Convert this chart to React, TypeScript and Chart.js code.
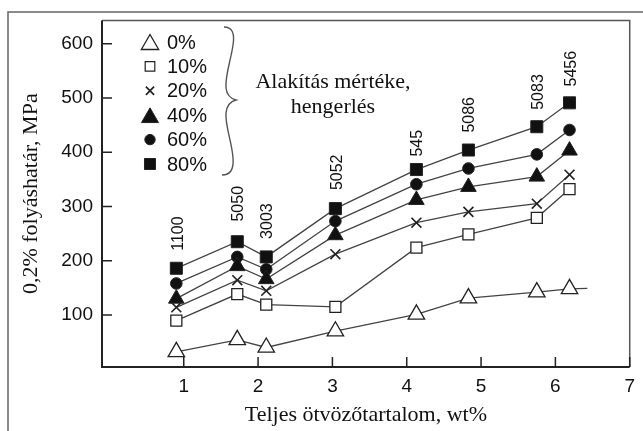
import React, { useEffect, useRef } from "react";
import { Chart, registerables } from "chart.js";

Chart.register(...registerables);

// ---- data ----
const xValues = [0.9, 1.72, 2.11, 3.04, 4.13, 4.83, 5.75, 6.19];
const series0 = [32, 54, 40, 70, 101, 131, 142, 148];
const series0TailX = 6.43;
const series0TailY = 149;
const series10 = [89.5, 138.5, 119, 115, 224, 248.5, 279, 332];
const series20 = [114, 164, 144.5, 212, 270, 290, 305, 358.6];
const series40 = [130, 190, 166, 247, 312, 336, 355, 403];
const series60 = [158, 207, 184, 273, 341, 370, 396, 441];
const series80 = [186, 235, 207, 296, 368, 404, 447, 491];
const seriesNames = ["0%", "10%", "20%", "40%", "60%", "80%"];
const alloyNames = ["1100", "5050", "3003", "5052", "545", "5086", "5083", "5456"];
const alloyX = [0.92, 1.72, 2.11, 3.06, 4.13, 4.83, 5.76, 6.2];
const alloyLabelY = [250, 305, 273, 363, 416.5, 469, 511, 554];
const xTicks = [1, 2, 3, 4, 5, 6, 7];
const yTicks = [100, 200, 300, 400, 500, 600];
const xTitle = "Teljes ötvözőtartalom, wt%";
const yTitle = "0,2% folyáshatár, MPa";
const noteLines = ["Alakítás mértéke,", "hengerlés"];

const SANS = "'Liberation Sans', Arial, sans-serif";
const SERIF = "'Liberation Serif', 'Times New Roman', serif";
const LINE = "#444";
const INK = "#111";

type MarkerStyle = "triangle" | "rect" | "crossRot" | "circle";

function drawMarker(
  ctx: CanvasRenderingContext2D,
  style: MarkerStyle,
  x: number,
  y: number,
  r: number,
  filled: boolean,
  lw: number
) {
  ctx.save();
  ctx.beginPath();
  if (style === "triangle") {
    const w = r * Math.sin(Math.PI / 3);
    ctx.moveTo(x, y - r);
    ctx.lineTo(x + w, y + r / 2);
    ctx.lineTo(x - w, y + r / 2);
    ctx.closePath();
  } else if (style === "rect") {
    const s = r * Math.SQRT1_2;
    ctx.rect(x - s, y - s, 2 * s, 2 * s);
  } else if (style === "circle") {
    ctx.arc(x, y, r, 0, Math.PI * 2);
  } else {
    const s = r * Math.SQRT1_2;
    ctx.moveTo(x - s, y - s);
    ctx.lineTo(x + s, y + s);
    ctx.moveTo(x + s, y - s);
    ctx.lineTo(x - s, y + s);
  }
  ctx.lineWidth = lw;
  ctx.strokeStyle = "#222";
  if (style !== "crossRot") {
    ctx.fillStyle = filled ? "#111" : "#fff";
    ctx.fill();
  }
  ctx.stroke();
  ctx.restore();
}

const legendSpec: { style: MarkerStyle; filled: boolean; r: number; lw: number }[] = [
  { style: "triangle", filled: false, r: 10, lw: 1.3 },
  { style: "rect", filled: false, r: 6.8, lw: 1.2 },
  { style: "crossRot", filled: false, r: 5.8, lw: 1.7 },
  { style: "triangle", filled: true, r: 9.8, lw: 1 },
  { style: "circle", filled: true, r: 5.2, lw: 1 },
  { style: "rect", filled: true, r: 7.8, lw: 1 },
];

const decorPlugin = {
  id: "decor",
  afterDraw(chart: any) {
    const ctx: CanvasRenderingContext2D = chart.ctx;
    const { left, right, top, bottom } = chart.chartArea;
    const xs = chart.scales.x;
    const ys = chart.scales.y;
    ctx.save();

    // outer frame (cut off at right/bottom)
    ctx.strokeStyle = "#666";
    ctx.lineWidth = 1.5;
    ctx.beginPath();
    ctx.moveTo(8, 431);
    ctx.lineTo(8, 12);
    ctx.lineTo(643, 12);
    ctx.stroke();

    // plot frame
    ctx.strokeStyle = "#555";
    ctx.lineWidth = 1.5;
    ctx.beginPath();
    ctx.moveTo(left, top);
    ctx.lineTo(right, top);
    ctx.lineTo(right, bottom);
    ctx.stroke();
    ctx.strokeStyle = "#222";
    ctx.lineWidth = 2;
    ctx.beginPath();
    ctx.moveTo(left, top);
    ctx.lineTo(left, bottom);
    ctx.lineTo(right, bottom);
    ctx.stroke();

    // inward tick marks
    ctx.lineWidth = 1.5;
    ctx.beginPath();
    xTicks.forEach((v) => {
      const px = xs.getPixelForValue(v);
      ctx.moveTo(px, bottom);
      ctx.lineTo(px, bottom - 10);
    });
    yTicks.forEach((v) => {
      const py = ys.getPixelForValue(v);
      ctx.moveTo(left, py);
      ctx.lineTo(left + 10, py);
    });
    ctx.stroke();

    // legend
    ctx.font = `20px ${SANS}`;
    ctx.fillStyle = INK;
    ctx.textAlign = "left";
    ctx.textBaseline = "middle";
    seriesNames.forEach((name, i) => {
      const rowY = 42 + i * 24.4;
      const sp = legendSpec[i];
      const my = sp.style === "triangle" ? rowY + sp.r / 4 : rowY;
      drawMarker(ctx, sp.style, 150, my, sp.r, sp.filled, sp.lw);
      ctx.fillStyle = INK;
      ctx.fillText(name, 167, rowY + 1);
    });

    // brace
    ctx.strokeStyle = "#555";
    ctx.lineWidth = 1.4;
    ctx.beginPath();
    ctx.moveTo(224, 27);
    ctx.bezierCurveTo(232, 27, 235, 33, 233, 45);
    ctx.bezierCurveTo(231, 60, 225, 75, 226, 88);
    ctx.bezierCurveTo(227, 96, 232, 99, 236, 100);
    ctx.bezierCurveTo(232, 101, 227, 104, 226, 113);
    ctx.bezierCurveTo(225, 126, 232, 142, 233, 158);
    ctx.bezierCurveTo(234, 170, 230, 175, 222, 175);
    ctx.stroke();

    // note text
    ctx.font = `22px ${SERIF}`;
    ctx.fillStyle = INK;
    ctx.textAlign = "center";
    ctx.fillText(noteLines[0], 333, 82);
    ctx.fillText(noteLines[1], 333, 107);

    // alloy labels (rotated)
    ctx.font = `16px ${SANS}`;
    alloyNames.forEach((name, i) => {
      const px = xs.getPixelForValue(alloyX[i]);
      const py = ys.getPixelForValue(alloyLabelY[i]);
      ctx.save();
      ctx.translate(px, py);
      ctx.rotate(-Math.PI / 2);
      ctx.textAlign = "center";
      ctx.textBaseline = "middle";
      ctx.fillText(name, 0, 1);
      ctx.restore();
    });

    ctx.restore();
  },
};

function pts(vals: number[]) {
  return vals.map((v, i) => ({ x: xValues[i], y: v }));
}

export default function App() {
  const ref = useRef<HTMLCanvasElement | null>(null);
  useEffect(() => {
    if (!ref.current) return;
    const common = {
      borderColor: LINE,
      borderWidth: 1.3,
      pointBorderColor: "#222",
      showLine: true,
      tension: 0,
    };
    const d0 = [...pts(series0), { x: series0TailX, y: series0TailY }];
    const chart = new Chart(ref.current, {
      type: "scatter",
      data: {
        datasets: [
          {
            ...common,
            label: seriesNames[0],
            data: d0,
            pointStyle: "triangle",
            pointRadius: d0.map((_, i) => (i === d0.length - 1 ? 0 : 9.5)),
            pointBackgroundColor: "#fff",
            pointBorderWidth: 1.3,
          },
          {
            ...common,
            label: seriesNames[1],
            data: pts(series10),
            pointStyle: "rect",
            pointRadius: 7.8,
            pointBackgroundColor: "#fff",
            pointBorderWidth: 1.3,
          },
          {
            ...common,
            label: seriesNames[2],
            data: pts(series20),
            pointStyle: "crossRot",
            pointRadius: 7,
            pointBackgroundColor: "#fff",
            pointBorderWidth: 1.6,
          },
          {
            ...common,
            label: seriesNames[3],
            data: pts(series40),
            pointStyle: "triangle",
            pointRadius: 9,
            pointBackgroundColor: "#111",
            pointBorderWidth: 1,
          },
          {
            ...common,
            label: seriesNames[4],
            data: pts(series60),
            pointStyle: "circle",
            pointRadius: 5.8,
            pointBackgroundColor: "#111",
            pointBorderWidth: 1,
          },
          {
            ...common,
            label: seriesNames[5],
            data: pts(series80),
            pointStyle: "rect",
            pointRadius: 8.5,
            pointBackgroundColor: "#111",
            pointBorderWidth: 1,
          },
        ],
      },
      options: {
        animation: false,
        responsive: false,
        layout: { padding: { left: 0, top: 18, right: 2, bottom: 0 } },
        plugins: {
          legend: { display: false },
          tooltip: { enabled: false },
        },
        scales: {
          x: {
            type: "linear",
            min: -0.1,
            max: 7,
            grid: { display: false, drawTicks: false },
            border: { display: false },
            afterBuildTicks: (s: any) => {
              s.ticks = xTicks.map((v) => ({ value: v }));
            },
            afterFit: (s: any) => {
              s.height = 64;
            },
            ticks: {
              padding: 8,
              color: INK,
              font: { family: SANS, size: 19 },
              maxRotation: 0,
              autoSkip: false,
            },
            title: {
              display: true,
              text: xTitle,
              color: INK,
              font: { family: SERIF, size: 22 },
              padding: { top: 0, bottom: 3 },
            },
          },
          y: {
            type: "linear",
            min: 4,
            max: 643,
            grid: { display: false, drawTicks: false },
            border: { display: false },
            afterBuildTicks: (s: any) => {
              s.ticks = yTicks.map((v) => ({ value: v }));
            },
            afterFit: (s: any) => {
              s.width = 102;
            },
            ticks: {
              padding: 9,
              color: INK,
              font: { family: SANS, size: 19 },
              autoSkip: false,
            },
            title: {
              display: true,
              text: yTitle,
              color: INK,
              font: { family: SERIF, size: 22 },
              padding: { top: 18, bottom: 0 },
            },
          },
        },
      } as any,
      plugins: [decorPlugin],
    });
    return () => chart.destroy();
  }, []);

  return (
    <div style={{ position: "fixed", left: 0, top: 0, width: 643, height: 431, background: "#fff" }}>
      <canvas ref={ref} width={643} height={431} style={{ display: "block" }} />
    </div>
  );
}
